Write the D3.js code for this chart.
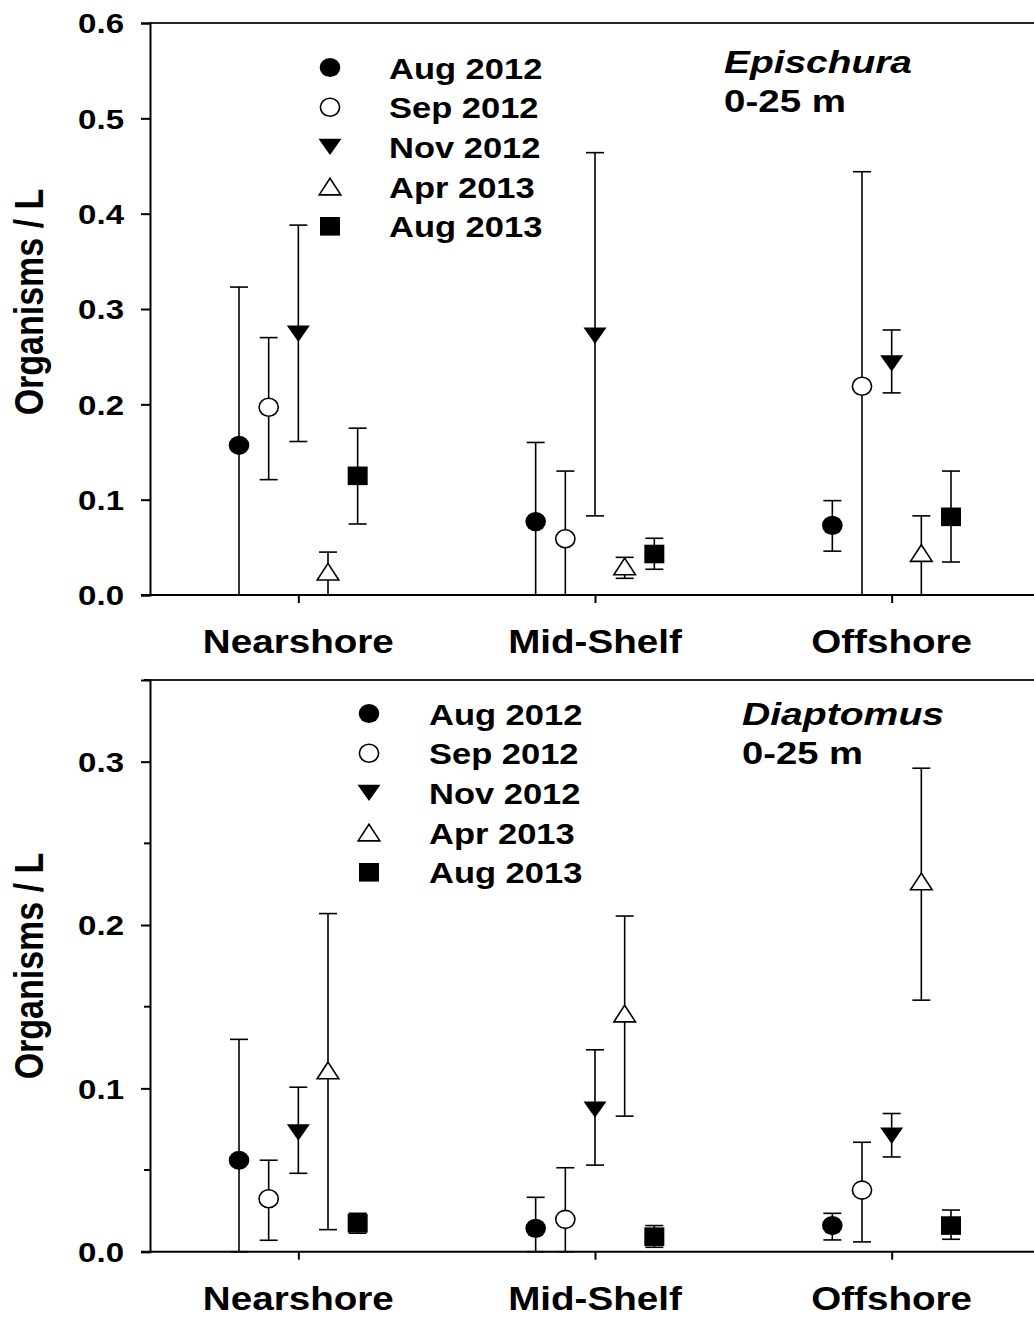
<!DOCTYPE html>
<html>
<head>
<meta charset="utf-8">
<script src="https://cdnjs.cloudflare.com/ajax/libs/d3/7.8.5/d3.min.js"></script>
<style>
  html, body { margin: 0; padding: 0; background: #fff; }
  svg { display: block; }
  text { font-family: "Liberation Sans", Arial, Helvetica, sans-serif; font-weight: bold; fill: #000; }
</style>
</head>
<body>
<div id="chart"></div>
<script>
// Sampling sites along the shelf transect, and survey months
const sites = ["Nearshore", "Mid-Shelf", "Offshore"];
const surveys = ["Aug 2012", "Sep 2012", "Nov 2012", "Apr 2013", "Aug 2013"];

// Epischura, 0-25 m: mean density (organisms / L) per survey, one value per site
const epischuraMean  = [[0.157, 0.077, 0.073], [0.197, 0.059, 0.219], [0.274, 0.272, 0.243], [0.0245, 0.030, 0.044], [0.125, 0.043, 0.082]];
const epischuraUpper = [[0.323, 0.160, 0.099], [0.270, 0.130, 0.444], [0.388, 0.464, 0.278], [0.045, 0.0395, 0.083], [0.175, 0.0595, 0.130]];
const epischuraLower = [[0.000, 0.000, 0.046], [0.121, 0.000, 0.000], [0.161, 0.083, 0.212], [0.000, 0.0175, 0.000], [0.0745, 0.027, 0.0346]];

// Diaptomus, 0-25 m
const diaptomusMean  = [[0.056, 0.0143, 0.016], [0.0324, 0.0198, 0.0377], [0.073, 0.087, 0.071], [0.111, 0.1458, 0.2267], [0.0174, 0.0092, 0.016]];
const diaptomusUpper = [[0.130, 0.0333, 0.0235], [0.056, 0.0514, 0.067], [0.1007, 0.1236, 0.0846], [0.207, 0.2055, 0.296], [0.0235, 0.016, 0.0255]];
const diaptomusLower = [[0.000, 0.000, 0.0072], [0.007, 0.000, 0.006], [0.048, 0.053, 0.058], [0.0135, 0.083, 0.154], [0.0113, 0.0027, 0.0076]];

// Axis ticks
const epischuraTicks = [0, 0.1, 0.2, 0.3, 0.4, 0.5, 0.6];
const diaptomusTicks = [0, 0.1, 0.2, 0.3];
const diaptomusMinorTicks = [0.05, 0.15, 0.25, 0.35];

const W = 1034, H = 1318;
const svg = d3.select("#chart").append("svg").attr("width", W).attr("height", H);

// horizontal stretch applied to glyphs
const SX = 1.17;

const panels = [
  { species: "Epischura", mean: epischuraMean, upper: epischuraUpper, lower: epischuraLower,
    yMax: 0.6, top: 23, bottom: 595, ticks: epischuraTicks, minor: [],
    legendX: 330, legendTextX: 389, legendY0: 67.5, annoX: 724, annoY: 73, annoW: [188, 122], titleY: 302 },
  { species: "Diaptomus", mean: diaptomusMean, upper: diaptomusUpper, lower: diaptomusLower,
    yMax: 0.35, top: 680, bottom: 1251.7, ticks: diaptomusTicks, minor: diaptomusMinorTicks,
    legendX: 369, legendTextX: 429, legendY0: 713.5, annoX: 742, annoY: 725, annoW: [202, 121], titleY: 966 }
];

const x = d3.scaleLinear().domain([0.5, 3.5]).range([150, 1040]);
const offsets = [-0.2, -0.1, 0, 0.1, 0.2];

// symbol drawers, one per survey
function drawSymbol(g, i) {
  if (i === 0) g.append("ellipse").attr("rx", 10.3).attr("ry", 9.6).attr("fill", "#000");
  if (i === 1) g.append("ellipse").attr("rx", 9.6).attr("ry", 9.0).attr("fill", "#fff").attr("stroke", "#000").attr("stroke-width", 1.6);
  if (i === 2) g.append("path").attr("d", "M-11.5,-8.2L11.5,-8.2L0,8.2Z").attr("fill", "#000");
  if (i === 3) g.append("path").attr("d", "M0,-8.3L10.8,8.3L-10.8,8.3Z").attr("fill", "#fff").attr("stroke", "#000").attr("stroke-width", 1.6).attr("stroke-linejoin", "miter");
  if (i === 4) g.append("rect").attr("x", -10).attr("y", -9.3).attr("width", 20).attr("height", 18.6).attr("fill", "#000");
}

function stretchedText(parent, tx, ty, str, size, k, anchor) {
  return parent.append("text")
    .attr("transform", `translate(${tx},${ty}) scale(${k},1)`)
    .attr("font-size", size)
    .attr("text-anchor", anchor || "start")
    .text(str);
}

panels.forEach(p => {
  const y = d3.scaleLinear().domain([0, p.yMax]).range([p.bottom, p.top]);
  const g = svg.append("g");

  // frame: top line
  g.append("line").attr("x1", 150).attr("x2", W).attr("y1", p.top).attr("y2", p.top)
    .attr("stroke", "#222").attr("stroke-width", 2);

  // y axis with major ticks
  const yAxis = d3.axisLeft(y).tickValues(p.ticks).tickSize(9).tickPadding(18)
    .tickFormat(d3.format(".1f"));
  const ya = g.append("g").attr("transform", "translate(150,0)").call(yAxis);
  ya.select(".domain").attr("stroke", "#000").attr("stroke-width", 2);
  ya.selectAll(".tick line").attr("stroke", "#000").attr("stroke-width", 2);
  ya.selectAll(".tick text")
    .attr("font-size", 28).attr("font-family", null)
    .attr("x", -26 / 1.18).attr("dy", "0.35em")
    .attr("transform", "scale(1.18,1)");

  // minor ticks
  g.selectAll(".minor").data(p.minor).enter().append("line")
    .attr("x1", 144).attr("x2", 150)
    .attr("y1", d => y(d)).attr("y2", d => y(d))
    .attr("stroke", "#000").attr("stroke-width", 2);

  // x axis with site ticks
  const xAxis = d3.axisBottom(x).tickValues([1, 2, 3]).tickSize(8).tickFormat("");
  const xa = g.append("g").attr("transform", `translate(0,${p.bottom})`).call(xAxis);
  xa.select(".domain").attr("d", `M141,0H${W + 10}`).attr("stroke", "#000").attr("stroke-width", 2);
  xa.selectAll(".tick line").attr("stroke", "#000").attr("stroke-width", 2);

  // site labels
  sites.forEach((s, j) => {
    stretchedText(g, x(j + 1), p.bottom + 58, s, 33, SX, "middle");
  });

  // y title
  g.append("text")
    .attr("transform", `translate(43,${p.titleY}) scale(${SX},1) rotate(-90)`)
    .attr("font-size", 34).attr("text-anchor", "middle")
    .text("Organisms / L");

  // error bars then symbols
  surveys.forEach((sv, i) => {
    sites.forEach((s, j) => {
      const cx = x(j + 1 + offsets[i]);
      const yU = y(p.upper[i][j]), yL = y(p.lower[i][j]);
      const eb = g.append("g").attr("stroke", "#000").attr("stroke-width", 1.6);
      eb.append("line").attr("x1", cx).attr("x2", cx).attr("y1", yU).attr("y2", yL);
      eb.append("line").attr("x1", cx - 9).attr("x2", cx + 9).attr("y1", yU).attr("y2", yU);
      eb.append("line").attr("x1", cx - 9).attr("x2", cx + 9).attr("y1", yL).attr("y2", yL);
    });
  });
  surveys.forEach((sv, i) => {
    sites.forEach((s, j) => {
      const cx = x(j + 1 + offsets[i]);
      const sg = g.append("g").attr("transform", `translate(${cx},${y(p.mean[i][j])})`);
      drawSymbol(sg, i);
    });
  });

  // legend
  surveys.forEach((sv, i) => {
    const ly = p.legendY0 + i * 39.7;
    const sg = g.append("g").attr("transform", `translate(${p.legendX},${ly})`);
    drawSymbol(sg, i);
    stretchedText(g, p.legendTextX, ly + 11, sv, 30, 1.15, "start");
  });

  // species / depth annotation
  g.append("text").attr("x", p.annoX).attr("y", p.annoY)
    .attr("font-size", 32).attr("font-style", "italic")
    .attr("textLength", p.annoW[0]).attr("lengthAdjust", "spacingAndGlyphs")
    .text(p.species);
  g.append("text").attr("x", p.annoX).attr("y", p.annoY + 39)
    .attr("font-size", 32)
    .attr("textLength", p.annoW[1]).attr("lengthAdjust", "spacingAndGlyphs")
    .text("0-25 m");
});
</script>
</body>
</html>
